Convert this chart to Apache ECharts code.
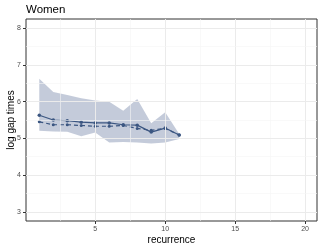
<!DOCTYPE html>
<html><head><meta charset="utf-8">
<script src="https://cdn.jsdelivr.net/npm/echarts@6/dist/echarts.min.js"></script>
<style>html,body{margin:0;padding:0;background:#fff}#c{width:324px;height:249px}</style>
</head><body><div id="c"></div>
<script>
const recurrence = [1,2,3,4,5,6,7,8,9,10,11];
const solidLine = [5.63,5.50,5.48,5.44,5.42,5.42,5.37,5.36,5.17,5.28,5.09];
const dashedLine = [5.45,5.37,5.37,5.35,5.33,5.33,5.35,5.27,5.22,5.27,5.09];
const ribbonUpper = [6.62,6.26,6.18,6.09,6.03,6.00,5.75,6.07,5.41,5.71,5.12];
const ribbonLower = [5.21,5.19,5.18,5.06,5.16,4.89,4.90,4.89,4.86,4.89,4.98];
const xTicks = [5,10,15,20];
const xMinor = [2.5,7.5,12.5,17.5];
const yTicks = [3,4,5,6,7,8];
const yMinor = [3.5,4.5,5.5,6.5,7.5];

const lineColor = '#3b5681';
const ribbonColor = 'rgba(58,82,132,0.3)';

const mk = (v, axis, color) => ({[axis]: v, lineStyle:{color:color, width: color==='#ebebeb'?1:0.6, type:'solid'}});
const gridLines = [
  ...xTicks.map(v=>mk(v,'xAxis','#ebebeb')),
  ...xMinor.map(v=>mk(v,'xAxis','#f5f5f5')),
  ...yTicks.map(v=>mk(v,'yAxis','#ebebeb')),
  ...yMinor.map(v=>mk(v,'yAxis','#f5f5f5'))
];

const ribbonData = recurrence.map((x,i)=>[x, ribbonLower[i], ribbonUpper[i]]);

const chart = echarts.init(document.getElementById('c'), null, {renderer:'canvas'});
chart.setOption({
  animation:false,
  title:{text:'Women', left:26, top:4, padding:0, textStyle:{fontFamily:'Liberation Sans', fontSize:11.5, fontWeight:'normal', color:'#000'}},
  grid:{left:26, right:7, top:19, bottom:28, show:true, borderColor:'#333', borderWidth:1, backgroundColor:'transparent', outerBoundsMode:'none', containLabel:false},
  xAxis:{type:'value', min:0.05, max:20.85, name:'recurrence', nameLocation:'middle', nameGap:14, nameMoveOverlap:false,
    nameTextStyle:{fontFamily:'Liberation Sans', fontSize:10, color:'#000'},
    axisLine:{show:false}, splitLine:{show:false},
    axisTick:{show:true, customValues:xTicks, length:3, lineStyle:{color:'#333'}},
    axisLabel:{customValues:xTicks, fontFamily:'Liberation Sans', fontSize:7, color:'#4d4d4d', margin:5}},
  yAxis:{type:'value', min:2.75, max:8.25, name:'log gap times', nameLocation:'middle', nameGap:10, nameMoveOverlap:false,
    nameTextStyle:{fontFamily:'Liberation Sans', fontSize:10, color:'#000'},
    axisLine:{show:false}, splitLine:{show:false},
    axisTick:{show:true, customValues:yTicks, length:3, lineStyle:{color:'#333'}},
    axisLabel:{customValues:yTicks, fontFamily:'Liberation Sans', fontSize:7, color:'#4d4d4d', margin:5}},
  series:[
    {type:'line', data:[], markLine:{silent:true, symbol:'none', label:{show:false}, data:gridLines}, z:0},
    {type:'custom', data:ribbonData, encode:{x:0, y:[1,2]}, z:1, silent:true,
      renderItem:function(params, api){
        if (params.dataIndex !== 0) return null;
        const pts = [];
        for (let i=0;i<ribbonData.length;i++) pts.push(api.coord([ribbonData[i][0], ribbonData[i][2]]));
        for (let i=ribbonData.length-1;i>=0;i--) pts.push(api.coord([ribbonData[i][0], ribbonData[i][1]]));
        return {type:'polygon', shape:{points:pts}, style:{fill:ribbonColor}};
      }},
    {type:'line', data:recurrence.map((x,i)=>[x,dashedLine[i]]), symbol:'circle', symbolSize:3, itemStyle:{color:lineColor}, lineStyle:{color:lineColor, width:1.2, type:[4,3]}, z:3},
    {type:'line', data:recurrence.map((x,i)=>[x,solidLine[i]]), symbol:'circle', symbolSize:3.5, itemStyle:{color:lineColor}, lineStyle:{color:lineColor, width:1.2}, z:4}
  ]
});
</script></body></html>
